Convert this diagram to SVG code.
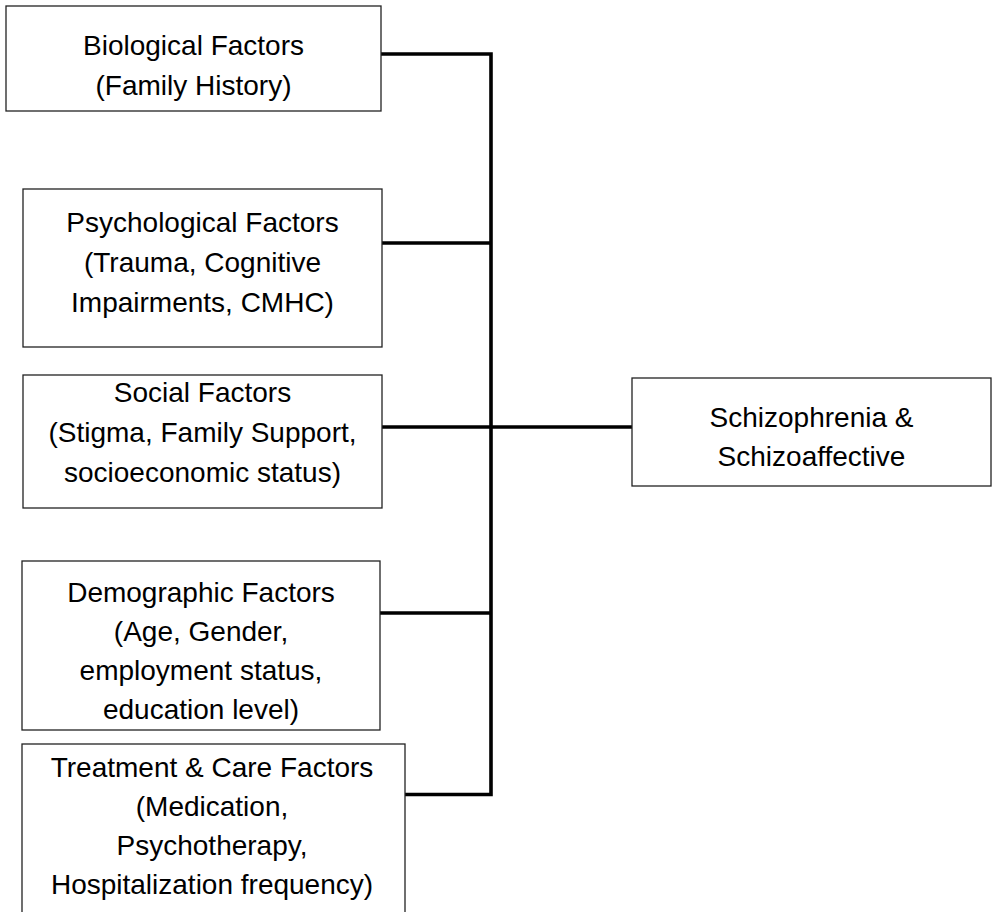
<svg xmlns="http://www.w3.org/2000/svg" width="993" height="912" viewBox="0 0 993 912">
<style>
.box{fill:#fff;stroke:#222;stroke-width:1.3}
.lbl{font-family:"Liberation Sans",Arial,sans-serif;font-size:28px;fill:#000;text-anchor:middle}
.conn{fill:none;stroke:#000;stroke-width:3.6}
</style>
<rect width="993" height="912" fill="#fff"/>
<g id="connectors">
<path class="conn" d="M381 54 H491 V794.5 H405"/>
<path class="conn" d="M382 243 H491"/>
<path class="conn" d="M382 427 H632"/>
<path class="conn" d="M380 613 H491"/>
</g>
<g id="biological">
<rect class="box" x="6" y="6" width="375" height="105"/>
<text class="lbl" x="193.5" y="55">Biological Factors</text>
<text class="lbl" x="193.5" y="95">(Family History)</text>
</g>
<g id="psychological">
<rect class="box" x="23" y="189" width="359" height="158"/>
<text class="lbl" x="202.5" y="232">Psychological Factors</text>
<text class="lbl" x="202.5" y="272">(Trauma, Cognitive</text>
<text class="lbl" x="202.5" y="312">Impairments, CMHC)</text>
</g>
<g id="social">
<rect class="box" x="23" y="375" width="359" height="133"/>
<text class="lbl" x="202.5" y="402">Social Factors</text>
<text class="lbl" x="202.5" y="442">(Stigma, Family Support,</text>
<text class="lbl" x="202.5" y="482">socioeconomic status)</text>
</g>
<g id="demographic">
<rect class="box" x="22" y="561" width="358" height="169"/>
<text class="lbl" x="201" y="602">Demographic Factors</text>
<text class="lbl" x="201" y="641">(Age, Gender,</text>
<text class="lbl" x="201" y="680">employment status,</text>
<text class="lbl" x="201" y="719">education level)</text>
</g>
<g id="treatment">
<rect class="box" x="22" y="744" width="383" height="175"/>
<text class="lbl" x="212" y="777">Treatment &amp; Care Factors</text>
<text class="lbl" x="212" y="816">(Medication,</text>
<text class="lbl" x="212" y="855">Psychotherapy,</text>
<text class="lbl" x="212" y="894">Hospitalization frequency)</text>
</g>
<g id="schizophrenia">
<rect class="box" x="632" y="378" width="359" height="108"/>
<text class="lbl" x="811.5" y="427">Schizophrenia &amp;</text>
<text class="lbl" x="811.5" y="466">Schizoaffective</text>
</g>
</svg>
